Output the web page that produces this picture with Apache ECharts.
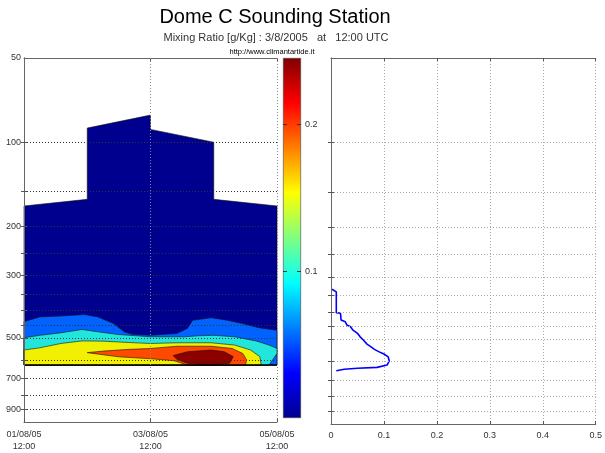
<!DOCTYPE html>
<html>
<head>
<meta charset="utf-8">
<script src="https://cdn.jsdelivr.net/npm/echarts@6.0.0/dist/echarts.min.js"></script>
<style>
  html, body { margin: 0; padding: 0; background: #fff; }
  #main { width: 605px; height: 453px; }
</style>
</head>
<body>
<div id="main"></div>
<script>
// pressure axis is drawn on log10(hPa), time axis in hours from 01/08/05 12:00
const pressureLabels = [50, 100, 200, 300, 500, 700, 900]
const pressureGrid = [100, 150, 200, 250, 300, 350, 400, 450, 500, 600, 700, 800, 900]
const timeTicks = [0, 48, 96]
const timeLabels = ['01/08/05\n12:00', '03/08/05\n12:00', '05/08/05\n12:00']
const colorbarTicks = [0.1, 0.2]
const colorbarMax = 0.245

// filled contour regions [hour, hPa], lowest level first
const darkBlueRegion = [[0, 169], [24, 160], [24, 89], [48, 80], [48, 90], [72, 100], [72, 160], [96, 169], [96, 626], [0, 626]]
const blueRegion = [[0, 438], [6, 421], [14, 418], [23, 413], [28, 421], [34, 445], [38, 476], [41, 486], [48, 490], [58, 483],
  [62, 463], [64, 433], [71, 424], [76, 431], [83, 445], [89, 460], [96, 470], [96, 626], [0, 626]]
const cyanRegion = [[0, 500], [6, 490], [14, 480], [22, 467], [28, 476], [36, 487], [48, 496], [61, 496], [66, 492], [72, 490],
  [80, 496], [88, 513], [93, 531], [96, 546], [96, 569], [93, 626], [0, 626]]
const yellowRegion = [[0, 553], [6, 543], [14, 524], [22, 513], [30, 514], [40, 520], [48, 524], [58, 521], [71, 521], [80, 531],
  [86, 553], [89.5, 584], [90, 626], [0, 626]]
const orangeRegion = [[24, 565], [30, 558], [40, 550], [48, 546], [58, 536], [71, 536], [79, 546], [83, 569], [84.5, 600], [84, 626],
  [62, 626], [57, 604], [48, 594], [36, 585]]
const darkRedRegion = [[56.6, 579], [62, 561], [71, 553], [76, 561], [79.4, 584], [78, 617], [71, 626], [62, 617], [58, 597]]
const surfaceLine = [[0, 626], [96, 626]]

// profile at 3/8/2005 12:00 [g/Kg, hPa]
const profile = [[0.002, 332], [0.010, 339], [0.010, 402], [0.018, 404], [0.019, 427], [0.027, 433], [0.030, 445], [0.037, 451],
  [0.041, 463], [0.050, 476], [0.055, 490], [0.061, 503], [0.068, 520], [0.075, 531], [0.082, 543], [0.090, 553], [0.100, 564],
  [0.108, 577], [0.110, 597], [0.106, 617], [0.087, 629], [0.050, 634], [0.025, 639], [0.010, 647]]

const LOG = v => Math.log10(v)
const FONT = 'Liberation Sans, Arial, sans-serif'

const chart = echarts.init(document.getElementById('main'))

function regionSeries(pts, color) {
  return {
    type: 'custom',
    xAxisIndex: 0,
    yAxisIndex: 0,
    silent: true,
    data: pts.map(d => [d[0], LOG(d[1])]),
    renderItem: (params, api) => {
      if (params.dataIndex !== 0) return
      return {
        type: 'polygon',
        shape: { points: pts.map(d => api.coord([d[0], LOG(d[1])])) },
        style: { fill: color, stroke: '#111', lineWidth: 0.6 }
      }
    }
  }
}

const frame = { show: true, lineStyle: { color: '#666', width: 1 } }
const label9 = { color: '#333', fontSize: 9, fontFamily: FONT }

function pressureAxis(gridIndex, position, withLabels, gridColor) {
  return {
    type: 'value', gridIndex, position, inverse: true,
    min: LOG(50), max: LOG(1000), z: 5,
    axisLine: frame,
    axisTick: { show: true, inside: true, length: 3, customValues: pressureGrid.map(LOG), lineStyle: { color: '#555' } },
    axisLabel: withLabels
      ? Object.assign({ show: true, margin: 3, customValues: pressureLabels.map(LOG), formatter: v => String(Math.round(Math.pow(10, v))) }, label9)
      : { show: false },
    splitLine: gridColor ? { show: true, lineStyle: { color: gridColor, type: [1, 2], width: 1 } } : { show: false }
  }
}

const option = {
  animation: false,
  backgroundColor: '#fff',
  title: [
    { text: 'Dome C Sounding Station', left: 275, top: 7, padding: 0, textAlign: 'center',
      textStyle: { fontSize: 20, fontWeight: 'normal', color: '#000', fontFamily: FONT } },
    { text: 'Mixing Ratio [g/Kg] : 3/8/2005   at   12:00 UTC', left: 276, top: 32, padding: 0, textAlign: 'center',
      textStyle: { fontSize: 11, fontWeight: 'normal', color: '#333', fontFamily: FONT } },
    { text: 'http://www.climantartide.it', left: 272, top: 48, padding: 0, textAlign: 'center',
      textStyle: { fontSize: 7.5, fontWeight: 'normal', color: '#000', fontFamily: FONT } }
  ],
  grid: [
    { left: 24, top: 58, width: 253, height: 366 },
    { left: 283, top: 58, width: 18, height: 360 },
    { left: 331, top: 58, width: 269, height: 366 }
  ],
  xAxis: [
    { type: 'value', gridIndex: 0, position: 'bottom', min: 0, max: 96, interval: 48, z: 5,
      axisLine: frame,
      axisTick: { show: true, inside: true, length: 3, lineStyle: { color: '#555' } },
      axisLabel: Object.assign({ margin: 6, lineHeight: 12.5, customValues: timeTicks,
        formatter: v => timeLabels[timeTicks.indexOf(v)] || '' }, label9),
      splitLine: { show: true, lineStyle: { color: '#888', type: [1, 2] } } },
    { type: 'value', gridIndex: 0, position: 'top', min: 0, max: 96, interval: 48,
      axisLine: frame, axisTick: { show: true, inside: true, length: 3, lineStyle: { color: '#555' } },
      axisLabel: { show: false }, splitLine: { show: false } },
    { type: 'category', gridIndex: 1, data: ['c'], show: false },
    { type: 'value', gridIndex: 2, position: 'bottom', min: 0, max: 0.5, interval: 0.1,
      axisLine: frame,
      axisTick: { show: true, inside: true, length: 3, lineStyle: { color: '#555' } },
      axisLabel: Object.assign({ margin: 7, formatter: v => (v === 0 ? '0' : String(Math.round(v * 10) / 10)) }, label9),
      splitLine: { show: true, lineStyle: { color: '#aaa', type: [1, 2] } } },
    { type: 'value', gridIndex: 2, position: 'top', min: 0, max: 0.5, interval: 0.1,
      axisLine: frame, axisTick: { show: true, inside: true, length: 3, lineStyle: { color: '#555' } },
      axisLabel: { show: false }, splitLine: { show: false } }
  ],
  yAxis: [
    pressureAxis(0, 'left', true, '#333'),
    pressureAxis(0, 'right', false, null),
    { type: 'value', gridIndex: 1, position: 'right', min: 0, max: colorbarMax, z: 5,
      axisLine: { show: false },
      axisTick: { show: true, inside: true, length: 4, customValues: colorbarTicks, lineStyle: { color: '#333' } },
      axisLabel: Object.assign({ margin: 4, customValues: colorbarTicks, formatter: v => String(v) }, label9),
      splitLine: { show: false } },
    { type: 'value', gridIndex: 1, position: 'left', min: 0, max: colorbarMax, z: 5,
      axisLine: { show: false },
      axisTick: { show: true, inside: true, length: 4, customValues: colorbarTicks, lineStyle: { color: '#333' } },
      axisLabel: { show: false }, splitLine: { show: false } },
    pressureAxis(2, 'left', false, '#aaa'),
    pressureAxis(2, 'right', false, null)
  ],
  series: [
    regionSeries(darkBlueRegion, '#00008f'),
    regionSeries(blueRegion, '#0062ff'),
    regionSeries(cyanRegion, '#22e6dc'),
    regionSeries(yellowRegion, '#f0f000'),
    regionSeries(orangeRegion, '#ff4800'),
    regionSeries(darkRedRegion, '#8c0000'),
    {
      type: 'line', xAxisIndex: 0, yAxisIndex: 0, silent: true, showSymbol: false,
      data: surfaceLine.map(d => [d[0], LOG(d[1])]),
      lineStyle: { color: '#000', width: 1.5 }
    },
    {
      type: 'bar', xAxisIndex: 2, yAxisIndex: 2, silent: true, barWidth: '100%',
      data: [colorbarMax],
      itemStyle: {
        borderColor: '#444', borderWidth: 0.6,
        color: new echarts.graphic.LinearGradient(0, 1, 0, 0, [
          { offset: 0, color: '#00008f' },
          { offset: 0.125, color: '#0000ff' },
          { offset: 0.375, color: '#00ffff' },
          { offset: 0.625, color: '#ffff00' },
          { offset: 0.875, color: '#ff0000' },
          { offset: 1, color: '#800000' }
        ])
      }
    },
    {
      type: 'line', xAxisIndex: 3, yAxisIndex: 4, silent: true, showSymbol: false,
      data: profile.map(d => [d[0], LOG(d[1])]),
      lineStyle: { color: '#0000ff', width: 1.6 }
    }
  ]
}

chart.setOption(option)
</script>
</body>
</html>
